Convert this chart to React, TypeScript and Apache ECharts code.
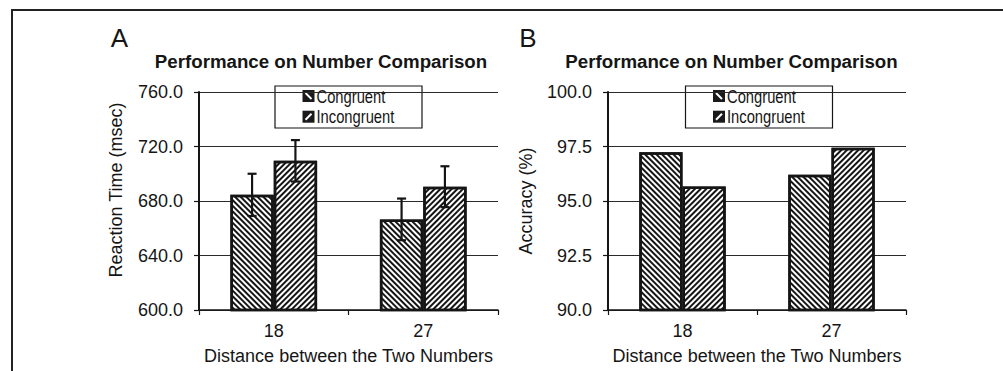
import React, { useEffect, useRef } from "react";
import * as echarts from "echarts";

const categories = ["18", "27"];
const seriesNames = ["Congruent", "Incongruent"];
const rtCongruent = [684.5, 666.5];
const rtIncongruent = [709.5, 690.5];
const rtCongruentErr = [15.5, 15.3];
const rtIncongruentErr = [15.2, 15.0];
const accCongruent = [97.24, 96.2];
const accIncongruent = [95.67, 97.44];
const panelLabels = ["A", "B"];
const panelTitle = "Performance on Number Comparison";
const xName = "Distance between the Two Numbers";
const yNames = ["Reaction Time (msec)", "Accuracy (%)"];

const FONT = "'Liberation Sans', Arial, sans-serif";
const INK = "#151515";
const BAR_FRAC = 0.29;

const decalFor = (rot: number) => ({
  symbol: "rect",
  symbolSize: 1,
  color: INK,
  backgroundColor: "#fff",
  dashArrayX: [1, 0],
  dashArrayY: [1.4, 1.6],
  rotation: rot,
});

const barStyle = (rot: number) => ({
  color: "#fff",
  borderColor: INK,
  borderWidth: 2.5,
  decal: decalFor(rot),
});

const legendGroup = (left: number, top: number) => {
  const children: any[] = [
    {
      type: "rect",
      shape: { x: 0, y: 0, width: 147, height: 42 },
      style: { fill: "#fff", stroke: INK, lineWidth: 1.2 },
    },
  ];
  seriesNames.forEach((name, i) => {
    const cy = 10 + i * 20.7;
    children.push({
      type: "rect",
      shape: { x: 27.5, y: cy - 6, width: 12, height: 12 },
      style: { fill: "#1a1a1a" },
    });
    children.push({
      type: "line",
      shape:
        i === 0
          ? { x1: 30.5, y1: cy - 3, x2: 36.5, y2: cy + 3 }
          : { x1: 30.5, y1: cy + 3, x2: 36.5, y2: cy - 3 },
      style: { stroke: "#fff", lineWidth: 2 },
    });
    children.push({
      type: "text",
      x: 41.5,
      y: cy,
      scaleX: 0.82,
      scaleY: 1,
      style: {
        text: name,
        font: `18px ${FONT}`,
        fill: INK,
        align: "left",
        verticalAlign: "middle",
      },
    });
  });
  return { type: "group", x: left, y: top, z: 30, children };
};

export default function App() {
  const ref = useRef<HTMLDivElement>(null);
  useEffect(() => {
    if (!ref.current) return;
    const chart = echarts.init(ref.current, null, { renderer: "svg" });

    const makeX = (gi: number) => ({
      type: "category",
      gridIndex: gi,
      data: categories,
      axisLine: { show: true, lineStyle: { color: INK, width: 1.5 } },
      axisTick: { show: true, inside: false, length: 5, lineStyle: { color: INK, width: 1.2 } },
      axisLabel: { fontSize: 18, fontFamily: FONT, color: INK, margin: 12 },
      name: xName,
      nameLocation: "middle",
      nameGap: 37,
      nameTextStyle: { fontSize: 18, fontFamily: FONT, color: INK },
    });
    const makeY = (
      gi: number,
      min: number,
      max: number,
      interval: number,
      gap: number,
      pad: number[]
    ) => ({
      type: "value",
      gridIndex: gi,
      min,
      max,
      interval,
      axisLine: { show: true, lineStyle: { color: INK, width: 2 } },
      axisTick: { show: true, inside: false, length: 5, lineStyle: { color: INK, width: 1.2 } },
      axisLabel: {
        fontSize: 18,
        fontFamily: FONT,
        color: INK,
        margin: 16,
        formatter: (v: number) => v.toFixed(1),
      },
      splitLine: { show: true, lineStyle: { color: "#2a2a2a", width: 1 } },
      name: yNames[gi],
      nameLocation: "middle",
      nameGap: gap,
      nameTextStyle: { fontSize: 18, fontFamily: FONT, color: INK, padding: pad },
    });

    const errData = categories.flatMap((_, i) => [
      [i, 0, rtCongruent[i] - rtCongruentErr[i], rtCongruent[i] + rtCongruentErr[i]],
      [i, 1, rtIncongruent[i] - rtIncongruentErr[i], rtIncongruent[i] + rtIncongruentErr[i]],
    ]);

    const textEl = (text: string, x: number, y: number, font: string) => ({
      type: "text",
      x,
      y,
      z: 20,
      style: { text, font, fill: INK, align: "center", verticalAlign: "middle" },
    });

    chart.setOption({
      animation: false,
      backgroundColor: "#fff",
      grid: [
        { left: 199, top: 92, width: 299, height: 218, containLabel: false },
        { left: 608, top: 92, width: 298, height: 218, containLabel: false },
      ],
      xAxis: [makeX(0), makeX(1)],
      yAxis: [
        makeY(0, 600, 760, 40, 74, [0, 0, 0, 22]),
        makeY(1, 90, 100, 2.5, 73, [0, 0, 0, 0]),
      ],
      graphic: [
        textEl(panelLabels[0], 119.5, 38, `26px ${FONT}`),
        textEl(panelLabels[1], 528, 38, `26px ${FONT}`),
        textEl(panelTitle, 321, 61, `bold 18.7px ${FONT}`),
        textEl(panelTitle, 731.5, 61, `bold 18.7px ${FONT}`),
        legendGroup(275, 86),
        legendGroup(685.5, 86),
        {
          type: "polyline",
          z: 20,
          shape: { points: [[12, 371], [12, 10], [1003, 10]] },
          style: { stroke: "#222", lineWidth: 2, fill: null },
        },
      ],
      series: [
        {
          name: seriesNames[0],
          type: "bar",
          xAxisIndex: 0,
          yAxisIndex: 0,
          data: rtCongruent,
          barWidth: `${BAR_FRAC * 100}%`,
          barGap: "0%",
          itemStyle: barStyle(Math.PI / 4),
        },
        {
          name: seriesNames[1],
          type: "bar",
          xAxisIndex: 0,
          yAxisIndex: 0,
          data: rtIncongruent,
          barWidth: `${BAR_FRAC * 100}%`,
          barGap: "0%",
          itemStyle: barStyle(-Math.PI / 4),
        },
        {
          name: seriesNames[0],
          type: "bar",
          xAxisIndex: 1,
          yAxisIndex: 1,
          data: accCongruent,
          barWidth: `${BAR_FRAC * 100}%`,
          barGap: "0%",
          itemStyle: barStyle(Math.PI / 4),
        },
        {
          name: seriesNames[1],
          type: "bar",
          xAxisIndex: 1,
          yAxisIndex: 1,
          data: accIncongruent,
          barWidth: `${BAR_FRAC * 100}%`,
          barGap: "0%",
          itemStyle: barStyle(-Math.PI / 4),
        },
        {
          type: "custom",
          xAxisIndex: 0,
          yAxisIndex: 0,
          z: 5,
          data: errData,
          encode: { x: 0, y: [2, 3] },
          renderItem: (params: any, api: any) => {
            const cat = api.value(0);
            const s = api.value(1);
            const low = api.value(2);
            const high = api.value(3);
            const band = api.size([1, 0])[0];
            const bw = band * BAR_FRAC;
            const cx = api.coord([cat, low])[0] + (s === 0 ? -bw / 2 : bw / 2);
            const yl = api.coord([cat, low])[1];
            const yh = api.coord([cat, high])[1];
            const st = { stroke: INK, lineWidth: 2.2 };
            const cap = 4.5;
            return {
              type: "group",
              children: [
                { type: "line", shape: { x1: cx, y1: yl, x2: cx, y2: yh }, style: st },
                { type: "line", shape: { x1: cx - cap, y1: yh, x2: cx + cap, y2: yh }, style: st },
                { type: "line", shape: { x1: cx - cap, y1: yl, x2: cx + cap, y2: yl }, style: st },
              ],
            };
          },
        },
      ],
    });
    return () => chart.dispose();
  }, []);
  return (
    <div
      ref={ref}
      style={{ position: "fixed", left: 0, top: 0, width: "1003px", height: "371px" }}
    />
  );
}
